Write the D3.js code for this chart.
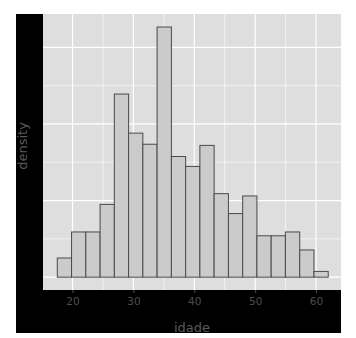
<!DOCTYPE html>
<html>
<head>
<meta charset="utf-8">
<script src="https://cdn.jsdelivr.net/npm/d3@7"></script>
<style>
  body { margin: 0; background: #fff; }
  svg { display: block; font-family: "DejaVu Sans", sans-serif; }
</style>
</head>
<body>
<div id="chart"></div>
<script>
// bin edges (idade) and density per bin
const binEdges = [17.5, 19.84, 22.18, 24.53, 26.87, 29.21, 31.55, 33.89, 36.24, 38.58,
                  40.92, 43.26, 45.61, 47.95, 50.29, 52.63, 54.97, 57.32, 59.66, 62.0];
const density = [0.0050, 0.0118, 0.0118, 0.0190, 0.0478, 0.0376, 0.0347, 0.0653, 0.0315,
                  0.0289, 0.0344, 0.0218, 0.0166, 0.0212, 0.0108, 0.0108, 0.0118, 0.0071, 0.0015];
const xMajor = [20, 30, 40, 50, 60];
const xMinor = [15, 25, 35, 45, 55];
const yMajor = [0, 0.02, 0.04, 0.06];
const yMinor = [0.01, 0.03, 0.05];

const W = 356, H = 338;
const outer = {x0: 16, y0: 14, x1: 341, y1: 333};
const panel = {left: 43, top: 14, right: 341, bottom: 290};

const bins = density.map((d, i) => ({x0: binEdges[i], x1: binEdges[i + 1], d}));

const svg = d3.select("#chart").append("svg")
  .attr("width", W).attr("height", H);

// black plot background
svg.append("rect")
  .attr("x", outer.x0).attr("y", outer.y0)
  .attr("width", outer.x1 - outer.x0).attr("height", outer.y1 - outer.y0)
  .attr("fill", "#000");

const x = d3.scaleLinear().domain([15.15, 64.1]).range([panel.left, panel.right]);
const y = d3.scaleLinear().domain([-0.00335, 0.0687]).range([panel.bottom, panel.top]);

// panel
svg.append("rect")
  .attr("x", panel.left).attr("y", panel.top)
  .attr("width", panel.right - panel.left).attr("height", panel.bottom - panel.top)
  .attr("fill", "#dedede");

const grid = svg.append("g");
grid.selectAll(".vminor").data(xMinor.filter(v => x(v) > panel.left)).enter().append("line")
  .attr("x1", d => x(d)).attr("x2", d => x(d))
  .attr("y1", panel.top).attr("y2", panel.bottom)
  .attr("stroke", "#f2f2f2").attr("stroke-width", 1);
grid.selectAll(".hminor").data(yMinor).enter().append("line")
  .attr("y1", d => y(d)).attr("y2", d => y(d))
  .attr("x1", panel.left).attr("x2", panel.right)
  .attr("stroke", "#f2f2f2").attr("stroke-width", 1);
grid.selectAll(".vmajor").data(xMajor).enter().append("line")
  .attr("x1", d => x(d)).attr("x2", d => x(d))
  .attr("y1", panel.top).attr("y2", panel.bottom)
  .attr("stroke", "#fff").attr("stroke-width", 1.2);
grid.selectAll(".hmajor").data(yMajor).enter().append("line")
  .attr("y1", d => y(d)).attr("y2", d => y(d))
  .attr("x1", panel.left).attr("x2", panel.right)
  .attr("stroke", "#fff").attr("stroke-width", 1.2);

// bars
svg.append("g").selectAll("rect").data(bins).enter().append("rect")
  .attr("x", d => x(d.x0))
  .attr("y", d => y(d.d))
  .attr("width", d => x(d.x1) - x(d.x0))
  .attr("height", d => y(0) - y(d.d))
  .attr("fill", "#cbcbcb")
  .attr("stroke", "#4a4a4a")
  .attr("stroke-width", 1);

// x axis: ticks + labels
const xAxis = svg.append("g")
  .attr("transform", `translate(0,${panel.bottom})`)
  .call(d3.axisBottom(x).tickValues(xMajor).tickSize(3).tickPadding(5).tickFormat(d3.format("d")));
xAxis.select(".domain").remove();
xAxis.selectAll(".tick line").attr("stroke", "#4d4d4d");
xAxis.selectAll(".tick text")
  .attr("fill", "#4d4d4d")
  .style("font-size", "10.5px")
  .style("font-family", "DejaVu Sans, sans-serif");

// axis titles
svg.append("text")
  .attr("x", (panel.left + panel.right) / 2)
  .attr("y", 332)
  .attr("text-anchor", "middle")
  .attr("fill", "#5a5a5a")
  .style("font-size", "13px")
  .text("idade");

svg.append("text")
  .attr("transform", "translate(26.5,146) rotate(-90)")
  .attr("text-anchor", "middle")
  .attr("fill", "#5a5a5a")
  .style("font-size", "13px")
  .text("density");
</script>
</body>
</html>
